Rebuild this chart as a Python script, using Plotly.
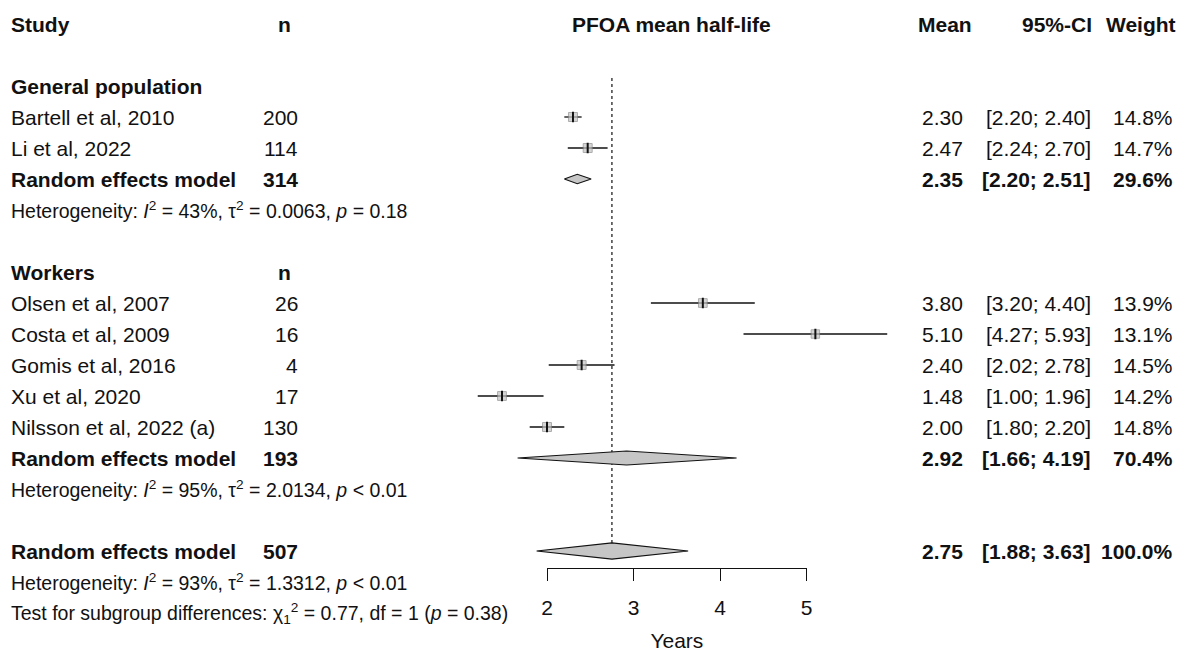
import math
import plotly.graph_objects as go

# ---------------- data ----------------
gp_studies = ["Bartell et al, 2010", "Li et al, 2022"]
gp_n = [200, 114]
gp_mean = [2.30, 2.47]
gp_lo = [2.20, 2.24]
gp_hi = [2.40, 2.70]
gp_w = [14.8, 14.7]

wk_studies = ["Olsen et al, 2007", "Costa et al, 2009", "Gomis et al, 2016",
              "Xu et al, 2020", "Nilsson et al, 2022 (a)"]
wk_n = [26, 16, 4, 17, 130]
wk_mean = [3.80, 5.10, 2.40, 1.48, 2.00]
wk_lo = [3.20, 4.27, 2.02, 1.00, 1.80]
wk_hi = [4.40, 5.93, 2.78, 1.96, 2.20]
wk_w = [13.9, 13.1, 14.5, 14.2, 14.8]

# random effects summaries: general population, workers, overall
re_n = [314, 193, 507]
re_mean = [2.35, 2.92, 2.75]
re_lo = [2.20, 1.66, 1.88]
re_hi = [2.51, 4.19, 3.63]
re_w = [29.6, 70.4, 100.0]

het_texts = [
    "Heterogeneity: <i>I</i><sup>2</sup> = 43%, τ<sup>2</sup> = 0.0063, <i>p</i> = 0.18",
    "Heterogeneity: <i>I</i><sup>2</sup> = 95%, τ<sup>2</sup> = 2.0134, <i>p</i> &lt; 0.01",
    "Heterogeneity: <i>I</i><sup>2</sup> = 93%, τ<sup>2</sup> = 1.3312, <i>p</i> &lt; 0.01",
]
test_text = "Test for subgroup differences: χ<sub>1</sub><sup>2</sup> = 0.77, df = 1 (<i>p</i> = 0.38)"

headers = ["Study", "n", "PFOA mean half-life", "Mean", "95%-CI", "Weight"]
group_titles = ["General population", "Workers"]
re_label = "Random effects model"
x_ticks = [2, 3, 4, 5]
x_title = "Years"

# ---------------- layout constants ----------------
W, H = 1178, 652
FONT = "Liberation Sans"
FS = 21
FS_SMALL = 19.5
BLACK = "#111111"

PX_AXIS_2 = 547.0       # pixel of x = 2
PX_PER_UNIT = 86.57
ROW0_PX = 24.0
ROW_H = 31.0
AXIS_LINE_PX = 568.0
CI_DRAW_MIN = 1.2       # visible lower limit of the plotting region

x_range = [2 - PX_AXIS_2 / PX_PER_UNIT, 2 + (W - PX_AXIS_2) / PX_PER_UNIT]
y_range = [(H - ROW0_PX) / ROW_H, -ROW0_PX / ROW_H]

# row positions
ROW_HEADER = 0
ROW_GP_TITLE = 2
gp_rows = [3 + i for i in range(len(gp_studies))]
ROW_GP_RE = gp_rows[-1] + 1
ROW_GP_HET = ROW_GP_RE + 1
ROW_WK_TITLE = ROW_GP_HET + 2
wk_rows = [ROW_WK_TITLE + 1 + i for i in range(len(wk_studies))]
ROW_WK_RE = wk_rows[-1] + 1
ROW_WK_HET = ROW_WK_RE + 1
ROW_ALL_RE = ROW_WK_HET + 2
ROW_ALL_HET = ROW_ALL_RE + 1
ROW_TEST = ROW_ALL_HET + 1
re_rows = [ROW_GP_RE, ROW_WK_RE, ROW_ALL_RE]
diamond_half_px = [4.7, 7.0, 8.2]

# column pixel positions
COL_STUDY = 10
COL_N = 299
COL_N_HEAD = 292
COL_MEAN = 964
COL_CI = 1092
COL_W = 1174
COL_MEAN_HEAD = 973
COL_CI_HEAD = 1093
COL_W_HEAD = 1177
COL_TITLE = 671

fig = go.Figure()

# reference (dotted) line at overall estimate
fig.add_trace(go.Scatter(
    x=[re_mean[2], re_mean[2]], y=[1.74, ROW_ALL_RE],
    mode="lines", line=dict(color=BLACK, width=1.2, dash="dot"),
    hoverinfo="skip", showlegend=False))

all_mean = gp_mean + wk_mean
all_lo = gp_lo + wk_lo
all_hi = gp_hi + wk_hi
all_w = gp_w + wk_w
all_rows = gp_rows + wk_rows

# CI lines
cx, cy = [], []
for lo, hi, r in zip(all_lo, all_hi, all_rows):
    cx += [max(lo, CI_DRAW_MIN), hi, None]
    cy += [r, r, None]
fig.add_trace(go.Scatter(x=cx, y=cy, mode="lines",
                         line=dict(color=BLACK, width=1.3),
                         hoverinfo="skip", showlegend=False))

# weight squares
fig.add_trace(go.Scatter(
    x=all_mean, y=all_rows, mode="markers",
    marker=dict(symbol="square",
                size=[9.0 * math.sqrt(w / 14.8) for w in all_w],
                color="#c4c4c4", line=dict(color="#8a8a8a", width=1)),
    hoverinfo="skip", showlegend=False))

# estimate ticks
fig.add_trace(go.Scatter(
    x=all_mean, y=all_rows, mode="markers",
    marker=dict(symbol="line-ns", size=7.5,
                line=dict(color=BLACK, width=2)),
    hoverinfo="skip", showlegend=False))

# diamonds
for m, lo, hi, r, hp in zip(re_mean, re_lo, re_hi, re_rows, diamond_half_px):
    h = hp / ROW_H
    fig.add_trace(go.Scatter(
        x=[lo, m, hi, m, lo], y=[r, r - h, r, r + h, r],
        mode="lines", fill="toself", fillcolor="#c6c6c6",
        line=dict(color=BLACK, width=1.2),
        hoverinfo="skip", showlegend=False))

# invisible trace to host the bottom axis
fig.add_trace(go.Scatter(x=[x_ticks[0], x_ticks[-1]], y=[0, 0],
                         xaxis="x2", yaxis="y2", mode="markers",
                         marker=dict(opacity=0), hoverinfo="skip",
                         showlegend=False))

# ---------------- text ----------------
ann = []


def txt(px, row, text, anchor="left", bold=False, size=FS):
    t = f"<b>{text}</b>" if bold else text
    ann.append(dict(x=px / W, xref="paper", y=row, yref="y", text=t,
                    showarrow=False, xanchor=anchor, yanchor="middle",
                    borderpad=0,
                    font=dict(family=FONT, size=size, color=BLACK)))


# headers
txt(COL_STUDY, ROW_HEADER, headers[0], bold=True)
txt(COL_N_HEAD, ROW_HEADER, headers[1], "right", bold=True)
txt(COL_TITLE, ROW_HEADER, headers[2], "center", bold=True)
txt(COL_MEAN_HEAD, ROW_HEADER, headers[3], "right", bold=True)
txt(COL_CI_HEAD, ROW_HEADER, headers[4], "right", bold=True)
txt(COL_W_HEAD, ROW_HEADER, headers[5], "right", bold=True)

txt(COL_STUDY, ROW_GP_TITLE, group_titles[0], bold=True)
txt(COL_STUDY, ROW_WK_TITLE, group_titles[1], bold=True)
txt(COL_N_HEAD, ROW_WK_TITLE, headers[1], "right", bold=True)


def study_row(name, n, m, lo, hi, w, r, bold=False):
    txt(COL_STUDY, r, name, bold=bold)
    txt(COL_N, r, str(n), "right", bold=bold)
    txt(COL_MEAN, r, f"{m:.2f}", "right", bold=bold)
    txt(COL_CI, r, f"[{lo:.2f}; {hi:.2f}]", "right", bold=bold)
    txt(COL_W, r, f"{w:.1f}%", "right", bold=bold)


for args in zip(gp_studies, gp_n, gp_mean, gp_lo, gp_hi, gp_w, gp_rows):
    study_row(*args)
for args in zip(wk_studies, wk_n, wk_mean, wk_lo, wk_hi, wk_w, wk_rows):
    study_row(*args)
for n, m, lo, hi, w, r in zip(re_n, re_mean, re_lo, re_hi, re_w, re_rows):
    study_row(re_label, n, m, lo, hi, w, r, bold=True)

for t, r in zip(het_texts, [ROW_GP_HET, ROW_WK_HET, ROW_ALL_HET]):
    txt(COL_STUDY, r, t, size=FS_SMALL)
txt(COL_STUDY, ROW_TEST, test_text, size=FS_SMALL)

# ---------------- layout ----------------
axis_y_paper = (H - AXIS_LINE_PX) / H
fig.update_layout(
    width=W, height=H, autosize=False,
    margin=dict(l=0, r=0, t=0, b=0, pad=0, autoexpand=False),
    paper_bgcolor="white", plot_bgcolor="rgba(0,0,0,0)",
    showlegend=False,
    annotations=ann,
    xaxis=dict(domain=[0, 1], range=x_range, visible=False, fixedrange=True),
    yaxis=dict(domain=[0, 1], range=y_range, visible=False, fixedrange=True),
    xaxis2=dict(domain=[PX_AXIS_2 / W, (PX_AXIS_2 + 3 * PX_PER_UNIT) / W],
                range=[x_ticks[0], x_ticks[-1]], anchor="y2",
                tickvals=x_ticks, ticktext=[str(v) for v in x_ticks],
                showline=True, linecolor=BLACK, linewidth=1.3,
                ticks="outside", ticklen=12, tickwidth=1.3, tickcolor=BLACK,
                ticklabelstandoff=9, automargin=False,
                showgrid=False, zeroline=False,
                tickfont=dict(family=FONT, size=FS, color=BLACK),
                title=dict(text=x_title, standoff=16,
                           font=dict(family=FONT, size=FS, color=BLACK)),
                fixedrange=True),
    yaxis2=dict(domain=[axis_y_paper, axis_y_paper + 0.01], anchor="x2",
                visible=False, fixedrange=True),
)

fig.write_html(
    "out.html",
    config={"displayModeBar": False},
    post_script="document.body.style.margin='0';document.body.style.overflow='hidden';",
)
